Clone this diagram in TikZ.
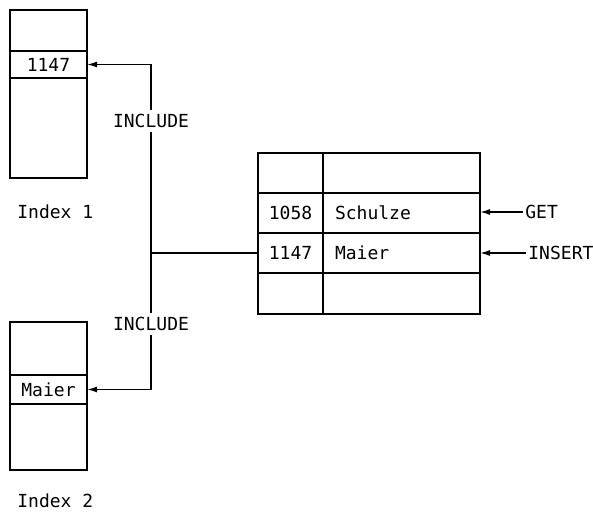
\documentclass[tikz,border=0pt]{standalone}
\usepackage{fontspec}
\setmonofont{DejaVu Sans Mono}
\usepackage{tikz}
\usetikzlibrary{positioning, arrows.meta}

\begin{document}
\begin{tikzpicture}[
  x=0.5pt, y=-0.5pt,
  cell/.style={draw, line width=0.75pt, anchor=north west, inner sep=0pt, outer sep=0pt,
               font=\ttfamily\fontsize{9}{11}\selectfont},
  valcell/.style={cell, minimum width=78.5pt, minimum height=20pt, align=left,
                  inner xsep=6pt, text width=66.5pt},
  lbl/.style={inner sep=1pt, font=\ttfamily\fontsize{9}{11}\selectfont},
  arr/.style={-{Latex[length=5pt, width=3pt]}, line width=0.75pt},
  con/.style={line width=0.75pt},
]
  \useasboundingbox (0,0) rectangle (593,512);

  % Index 1
  \node[cell, minimum width=38.5pt, minimum height=20.5pt] (ia top) at (10,10) {};
  \node[cell, minimum width=38.5pt, minimum height=13.5pt] (ia key) at (ia top.south west) {1147};
  \node[cell, minimum width=38.5pt, minimum height=50pt] (ia bot) at (ia key.south west) {};
  \node[lbl, anchor=west] (ia name) at (15,212) {Index 1};

  % Index 2
  \node[cell, minimum width=38.5pt, minimum height=26.5pt] (ib top) at (10,322) {};
  \node[cell, minimum width=38.5pt, minimum height=14.5pt] (ib key) at (ib top.south west) {Maier};
  \node[cell, minimum width=38.5pt, minimum height=33pt] (ib bot) at (ib key.south west) {};
  \node[lbl, anchor=west] (ib name) at (15,501) {Index 2};

  % table
  \node[cell, minimum width=32.5pt, minimum height=20pt] (t key1) at (258,153) {};
  \node[cell, minimum width=32.5pt, minimum height=20pt] (t key2) at (t key1.south west) {1058};
  \node[cell, minimum width=32.5pt, minimum height=20pt] (t key3) at (t key2.south west) {1147};
  \node[cell, minimum width=32.5pt, minimum height=20.5pt] (t key4) at (t key3.south west) {};
  \node[valcell] (t val1) at (t key1.north east) {};
  \node[valcell] (t val2) at (t key2.north east) {Schulze};
  \node[valcell] (t val3) at (t key3.north east) {Maier};
  \node[valcell, minimum height=20.5pt] (t val4) at (t key4.north east) {};

  % operations
  \node[lbl, anchor=west] (get) at (523,212) {GET};
  \node[lbl, anchor=west] (insert) at (526,253) {INSERT};
  \draw[arr] (get.west) -- (get.west -| t val2.east);
  \draw[arr] (insert.west) -- (insert.west -| t val3.east);

  % include connectors
  \coordinate (vx) at (151,0);
  \coordinate (junc) at (vx |- t key3.west);
  \draw[con] (t key3.west) -- (junc);
  \draw[arr] (junc) |- node[lbl, fill=white, inner sep=2pt, pos=0.35] (inc a) {INCLUDE} (ia key.east);
  \draw[arr] (junc) |- node[lbl, fill=white, inner sep=2pt, pos=0.26] (inc b) {INCLUDE} (ib key.east);
\end{tikzpicture}
\end{document}
